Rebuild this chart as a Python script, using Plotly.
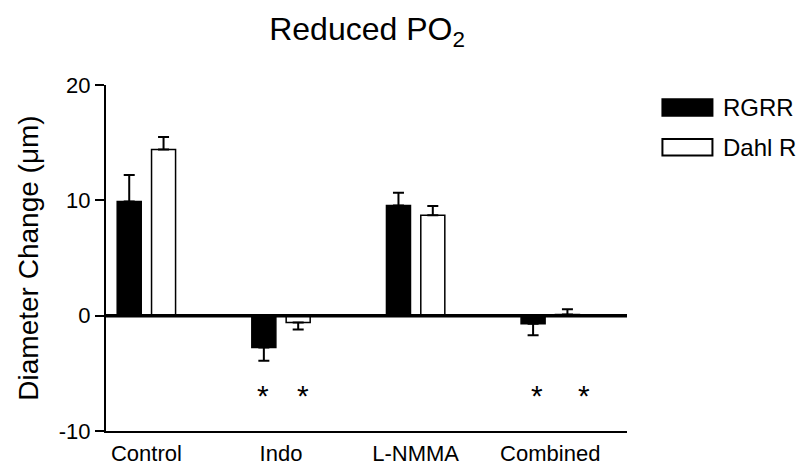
import plotly.graph_objects as go

categories = ["Control", "Indo", "L-NMMA", "Combined"]
rgrr = [9.9, -2.75, 9.55, -0.7]
rgrr_err = [2.3, 1.15, 1.1, 1.0]
dahl = [14.4, -0.6, 8.7, 0.1]
dahl_err = [1.1, 0.6, 0.8, 0.45]
y_ticks = [-10, 0, 10, 20]
y_tick_labels = ["-10", "0", "10", "20"]
sig_cats = ["Indo", "Indo", "Combined", "Combined"]
sig_y = [-6.9, -6.9, -6.9, -6.9]
sig_shift = [-18, 22, -13, 34]
series_names = ["RGRR", "Dahl R"]
series_fill = ["black", "white"]

def err_parts(vals, errs):
    up = [e if v >= 0 else 0 for v, e in zip(vals, errs)]
    dn = [0 if v >= 0 else e for v, e in zip(vals, errs)]
    return up, dn

fig = go.Figure()
for name, vals, errs, fill in zip(series_names, [rgrr, dahl], [rgrr_err, dahl_err], series_fill):
    up, dn = err_parts(vals, errs)
    fig.add_trace(go.Bar(
        x=categories, y=vals, name=name, showlegend=False,
        marker=dict(color=fill, line=dict(color="black", width=1.5)),
        error_y=dict(type="data", symmetric=False, array=up, arrayminus=dn,
                     color="black", thickness=2, width=5.5),
    ))

fig.add_hline(y=0, line=dict(color="black", width=3.5), layer="above")

for c, yv, sh in zip(sig_cats, sig_y, sig_shift):
    fig.add_annotation(x=c, y=yv, text="*", showarrow=False, xshift=sh,
                       font=dict(size=30, color="black"), yanchor="middle")

# manual legend (wide rectangular swatches, as in the reference)
leg_y = [0.935, 0.82]
for name, fill, yc in zip(series_names, series_fill, leg_y):
    fig.add_shape(type="rect", xref="paper", yref="paper",
                  x0=1.068, x1=1.164, y0=yc - 0.024, y1=yc + 0.024,
                  fillcolor=fill, line=dict(color="black", width=2))
    fig.add_annotation(xref="paper", yref="paper", x=1.18, y=yc, text=name,
                       showarrow=False, xanchor="left", yanchor="middle",
                       font=dict(size=24, color="black"))

fig.update_layout(
    width=803, height=464,
    paper_bgcolor="white", plot_bgcolor="white",
    font=dict(family="Liberation Sans, Arial, sans-serif", color="black"),
    title=dict(text="Reduced PO<sub>2</sub>", x=0.501, xref="paper", xanchor="center",
               y=0.955, yref="container", yanchor="middle", font=dict(size=32)),
    margin=dict(l=98, r=184, t=77, b=41),
    barmode="group", bargap=0.49, bargroupgap=0.3,
    showlegend=False,
    xaxis=dict(range=[-0.3, 3.57], showline=True, linecolor="black", linewidth=2,
               ticks="", tickfont=dict(size=22), showgrid=False, zeroline=False,
               ticklabelstandoff=2, automargin=False),
    yaxis=dict(range=[-10, 20], tickvals=y_ticks, ticktext=y_tick_labels,
               showline=True, linecolor="black", linewidth=2, ticks="outside",
               ticklen=9, tickwidth=2, tickcolor="black", tickfont=dict(size=22),
               showgrid=False, zeroline=False, automargin=False,
               title=dict(text="Diameter Change (μm)", font=dict(size=28), standoff=12)),
)

fig.write_html("out.html")
